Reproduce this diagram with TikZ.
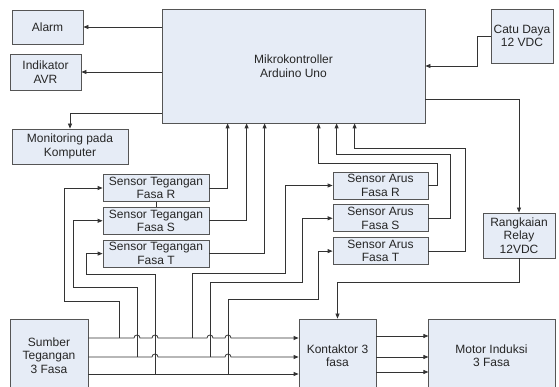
\documentclass[tikz,border=0pt]{standalone}
\usepackage{fontspec}
\setmainfont{Liberation Sans}
\usepackage{tikz}
\usetikzlibrary{arrows.meta,positioning,calc}
\definecolor{blkfill}{HTML}{E6ECF6}
\definecolor{blkline}{HTML}{555555}
\definecolor{wirecol}{HTML}{333333}

\begin{document}
\begin{tikzpicture}[
    x=1pt, y=1pt,
    every node/.style={align=center, font=\fontsize{12}{13.5}\selectfont, text=black!85},
    block/.style={draw=blkline, fill=blkfill, line width=0.8pt, inner sep=1pt},
    wire/.style={wirecol, line width=0.8pt},
    arrow/.style={-{Triangle[length=5pt, width=4pt]}, wirecol, line width=0.8pt}
]
    \useasboundingbox (0,0) rectangle (559,387);

    % controller and its outputs
    \node[block, minimum width=263pt, minimum height=114pt] (mcu) at (293.5,321) {Mikrokontroller\\Arduino Uno};
    \node[block, minimum width=71pt, minimum height=34pt] (alarm) at (47.5,360) {Alarm};
    \node[block, minimum width=71pt, minimum height=36pt] (avr) at (45.5,315) {Indikator\\AVR};
    \node[block, minimum width=116pt, minimum height=35pt] (mon) at (70,240.5) {Monitoring pada\\Komputer};
    \node[block, minimum width=62pt, minimum height=54pt] (catu) at (522,351) {Catu Daya\\12 VDC};
    \node[block, minimum width=72pt, minimum height=45pt] (relay) at (519,151.5) {Rangkaian\\Relay\\12VDC};

    % sensors
    \node[block, minimum width=106pt, minimum height=27pt] (tR) at (156,199) {Sensor Tegangan\\Fasa R};
    \node[block, minimum width=106pt, minimum height=27pt, below=5pt of tR] (tS) {Sensor Tegangan\\Fasa S};
    \node[block, minimum width=106pt, minimum height=27pt, below=5pt of tS] (tT) {Sensor Tegangan\\Fasa T};
    \node[block, minimum width=95pt, minimum height=27pt] (aR) at (380.5,201.5) {Sensor Arus\\Fasa R};
    \node[block, minimum width=95pt, minimum height=27pt, below=5pt of aR] (aS) {Sensor Arus\\Fasa S};
    \node[block, minimum width=95pt, minimum height=27pt, below=5pt of aS] (aT) {Sensor Arus\\Fasa T};

    % power side (runs past the lower edge)
    \node[block, minimum width=78pt, minimum height=73pt] (sumber) at (49,31.5) {Sumber\\Tegangan\\3 Fasa};
    \node[block, minimum width=77pt, minimum height=73pt] (kontaktor) at (337.5,31.5) {Kontaktor 3\\fasa};
    \node[block, minimum width=127pt, minimum height=73pt] (motor) at (491.5,31.5) {Motor Induksi\\3 Fasa};

    \coordinate (railR) at ([yshift=17.5pt]sumber.east);
    \coordinate (railS) at ([yshift=-1.5pt]sumber.east);
    \coordinate (railT) at ([yshift=-18.5pt]sumber.east);

    \draw[arrow] (mcu.west |- alarm.east) -- (alarm.east);
    \draw[arrow] (mcu.west |- avr.east) -- (avr.east);
    \draw[arrow] ([yshift=10pt]mcu.south west) -| (mon.north);
    \draw[arrow] (catu.west) -- ++(-13,0) |- (mcu.east);
    \draw[arrow] ([yshift=24pt]mcu.south east) -| (relay.north);
    \draw[arrow] (relay.south) -- ++(0,-24) -| (kontaktor.north);

    % sensor outputs
    \draw[wire] (tR.south) -- (tS.north);
    \draw[arrow] (tR.east) -| ([xshift=66pt]mcu.south west);
    \draw[arrow] (tS.east) -| ([xshift=85pt]mcu.south west);
    \draw[arrow] (tT.east) -| ([xshift=103pt]mcu.south west);
    \draw[arrow] (aR.east) -- ++(9,0) |- ([xshift=157pt, yshift=-40pt]mcu.south west) -- ([xshift=157pt]mcu.south west);
    \draw[arrow] (aS.east) -- ++(22,0) |- ([xshift=175pt, yshift=-31pt]mcu.south west) -- ([xshift=175pt]mcu.south west);
    \draw[arrow] (aT.east) -- ++(37,0) |- ([xshift=193pt, yshift=-25pt]mcu.south west) -- ([xshift=193pt]mcu.south west);

    % three phase lines with hops
    \draw[arrow] (railR) -- (railR -| 134,0) arc[start angle=180, end angle=0, radius=3pt]
        -- (railR -| 152,0) arc[start angle=180, end angle=0, radius=3pt]
        -- (railR -| 207,0) arc[start angle=180, end angle=0, radius=3pt]
        -- (railR -| 225,0) arc[start angle=180, end angle=0, radius=3pt]
        -- (railR -| kontaktor.west);
    \draw[arrow] (railS) -- (railS -| 152,0) arc[start angle=180, end angle=0, radius=3pt]
        -- (railS -| 225,0) arc[start angle=180, end angle=0, radius=3pt]
        -- (railS -| kontaktor.west);
    \draw[arrow] (railT) -- (railT -| kontaktor.west);

    % sensor inputs
    \draw[arrow] (railR -| 119,0) |- (64,86) |- (tR.west);
    \draw[arrow] (railS -| 137,0) |- (73,100) |- (tS.west);
    \draw[arrow] (railT -| 155,0) |- (86,113) |- (tT.west);
    \draw[arrow] (railR -| 192,0) |- (285,114) |- (aR.west);
    \draw[arrow] (railS -| 210,0) |- (302,105) |- (aS.west);
    \draw[arrow] (railT -| 228,0) |- (318,88) |- (aT.west);

    \foreach \dy in {19.5,-1.5,-16.5}
        \draw[arrow] ([yshift=\dy pt]kontaktor.east) -- ++(52,0);
\end{tikzpicture}
\end{document}
